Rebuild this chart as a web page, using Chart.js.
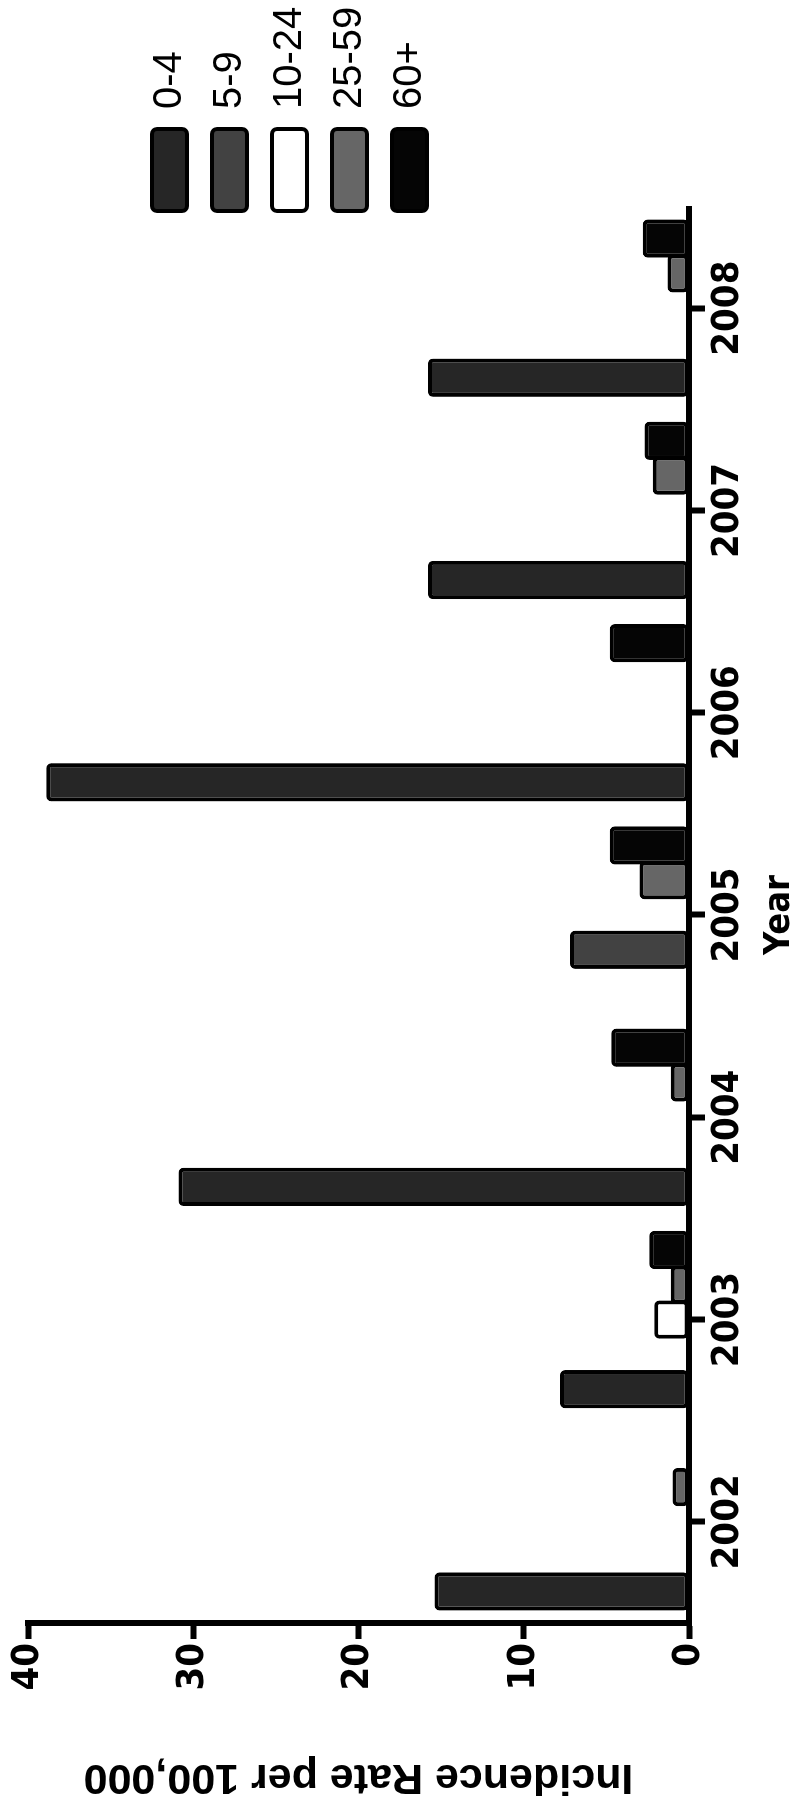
<!DOCTYPE html>
<html>
<head>
<meta charset="utf-8">
<script src="https://cdn.jsdelivr.net/npm/chart.js@4/dist/chart.umd.min.js"></script>
<style>
html,body{margin:0;padding:0;background:#fff;overflow:hidden;width:806px;height:1802px;}
#wrap{position:absolute;left:0;top:0;width:1802px;height:806px;transform-origin:0 0;transform:translate(0,1802px) rotate(-90deg);}
canvas{display:block;}
</style>
</head>
<body>
<div id="wrap"><canvas id="c" width="1802" height="806"></canvas></div>
<script>
// Categories and tick labels
const years = ['2002', '2003', '2004', '2005', '2006', '2007', '2008'];
const ageGroups = ['0-4', '5-9', '10-24', '25-59', '60+'];
const valueTicks = [0, 10, 20, 30, 40];

// Incidence rate per 100,000 by age group
const age0to4   = [15.4, 7.8, 30.9, 0, 38.9, 15.8, 15.8];
const age5to9   = [0, 0, 0, 7.2, 0, 0, 0];
const age10to24 = [0, 2.1, 0, 0, 0, 0, 0];
const age25to59 = [1.0, 1.1, 1.1, 3.0, 0, 2.2, 1.3];
const age60plus = [0, 2.4, 4.7, 4.8, 4.8, 2.7, 2.8];

const seriesValues = [age0to4, age5to9, age10to24, age25to59, age60plus];
const fills = ['#262626', '#424242', '#ffffff', '#666666', '#050505'];

const NARROW = "'Liberation Sans Narrow', 'DejaVu Sans Condensed', 'Arial Narrow', sans-serif";
const REG = "'Liberation Sans', Arial, Helvetica, sans-serif";

const datasets = ageGroups.map((g, i) => ({
  label: g,
  data: seriesValues[i],
  backgroundColor: fills[i],
  borderColor: '#000',
  borderWidth: 4,
  borderRadius: 5,
  borderSkipped: false
}));

const moveLegend = {
  id: 'moveLegend',
  afterLayout(chart) {
    const lg = chart.legend;
    if (!lg) return;
    const w = lg.width, h = lg.height;
    lg.left = 1571; lg.right = lg.left + w;
    lg.top = 129.5; lg.bottom = lg.top + Math.max(h, 400);
  }
};

new Chart(document.getElementById('c').getContext('2d'), {
  type: 'bar',
  data: { labels: years, datasets: datasets },
  options: {
    responsive: false,
    animation: false,
    devicePixelRatio: 1,
    layout: { padding: { left: 4, top: 28, right: 207, bottom: 0 } },
    datasets: { bar: { categoryPercentage: 0.86, barPercentage: 1.1 } },
    plugins: {
      tooltip: { enabled: false },
      legend: {
        position: 'chartArea',
        align: 'start',
        labels: {
          color: '#000',
          font: { family: REG, size: 40, lineHeight: 1 },
          boxWidth: 82,
          boxHeight: 35,
          padding: 20,
          useBorderRadius: true,
          borderRadius: 5
        }
      }
    },
    scales: {
      x: {
        grid: { display: true, drawOnChartArea: false, offset: false, tickLength: 16, tickWidth: 6, tickColor: '#000', color: '#000' },
        border: { display: true, width: 6, color: '#000' },
        ticks: { color: '#000', font: { family: NARROW, weight: 'bold', size: 38, lineHeight: 1 }, padding: 4, maxRotation: 0, minRotation: 0 },
        title: { display: true, text: 'Year', color: '#000', font: { family: NARROW, weight: 'bold', size: 36, lineHeight: 1 }, padding: { top: 0, bottom: 8 } },
        afterFit(s) { s.height = 117; }
      },
      y: {
        min: valueTicks[0],
        max: valueTicks[valueTicks.length - 1],
        afterBuildTicks(s) { s.ticks = valueTicks.map(v => ({ value: v })); },
        grid: { display: true, drawOnChartArea: false, tickLength: 16, tickWidth: 6, tickColor: '#000', color: '#000' },
        border: { display: true, width: 6, color: '#000' },
        ticks: { color: '#000', font: { family: NARROW, weight: 'bold', size: 38, lineHeight: 1 }, padding: 4 },
        title: { display: true, text: 'Incidence Rate per 100,000', color: '#000', font: { family: REG, weight: 'bold', size: 43, lineHeight: 1 }, padding: { top: 0, bottom: 0 } },
        afterFit(s) { s.width = 175; }
      }
    }
  },
  plugins: [moveLegend]
});
</script>
</body>
</html>
